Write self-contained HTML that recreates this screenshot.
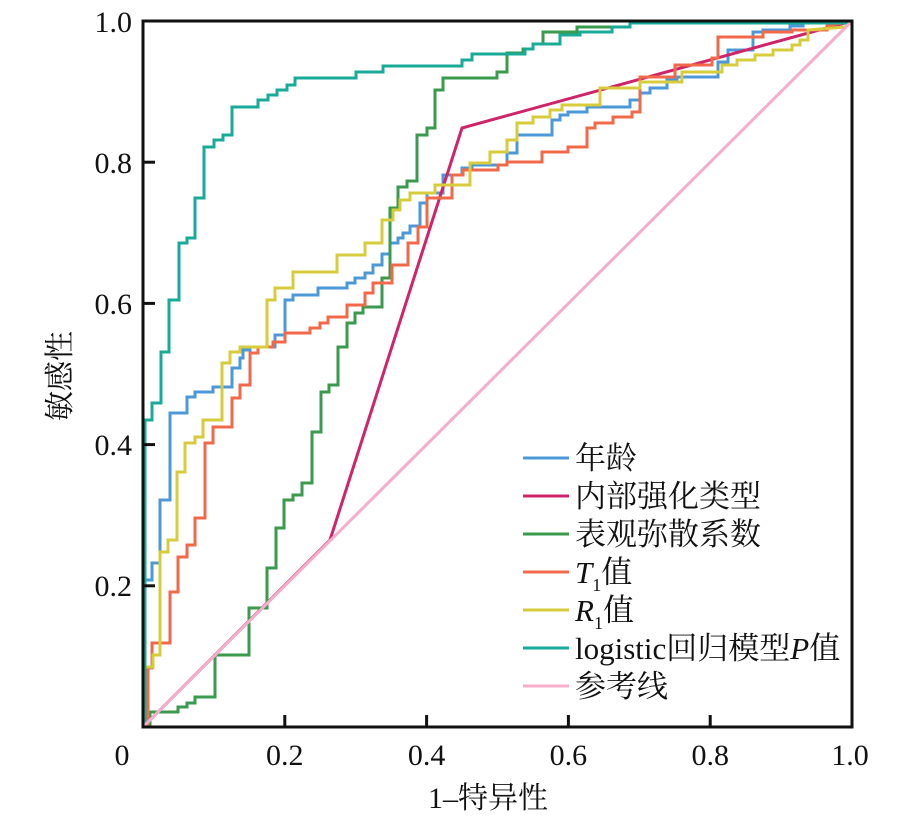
<!DOCTYPE html>
<html>
<head>
<meta charset="utf-8">
<style>
html,body{margin:0;padding:0;background:#fff;}
svg{display:block;}
.t{font-family:"Liberation Serif","Noto Serif CJK SC",serif;fill:#111;}
</style>
</head>
<body>
<svg width="901" height="820" viewBox="0 0 901 820" xmlns="http://www.w3.org/2000/svg">
<rect width="901" height="820" fill="#fff"/>
<g fill="none" stroke-width="3" stroke-linejoin="miter" stroke-linecap="butt">
<!-- blue 年龄 -->
<polyline stroke="#4d98d8" points="145,727 145,580 152,580 152,563 160,563 160,500 170,500 170,413 187,413 187,397 195,397 195,392 213,392 213,387 232,387 232,368 240,368 240,358 243,358 243,350 250,350 250,347 275,347 275,335 285,335 285,300 293,300 293,295 318,295 318,288 347,288 347,283 355,283 355,278 365,278 365,273 373,273 373,265 382,265 382,254 390,254 390,243 398,243 398,238 403,238 403,233 410,233 410,226 420,226 420,203 427,203 427,193 443,193 443,175 462,175 462,168 472,168 472,165 507,165 507,153 517,153 517,135 552,135 552,120 560,120 560,115 568,115 568,112 587,112 587,107 630,107 630,100 640,100 640,93 650,93 650,88 667,88 667,80 677,80 677,77 718,77 718,62 728,62 728,50 753,50 753,32 763,32 763,30 790,30 790,26 803,26 803,23 852,21"/>
<!-- magenta 内部强化类型 -->
<polyline stroke="#d0246a" points="143,727 330,540 462,128 852,21"/>
<!-- green 表观弥散系数 -->
<polyline stroke="#3a9a4e" points="150,727 150,712 178,712 178,707 187,707 187,703 195,703 195,697 215,697 215,655 249,655 249,608 267,608 267,568 276,568 276,528 284,528 284,500 293,500 293,495 302,495 302,483 312,483 312,432 321,432 321,392 329,392 329,385 338,385 338,347 347,347 347,323 355,323 355,313 363,313 363,307 382,307 382,278 390,278 390,208 398,208 398,187 407,187 407,181 417,181 417,135 427,135 427,128 435,128 435,90 443,90 443,78 497,78 497,72 507,72 507,53 523,53 523,49 533,49 533,44 543,44 543,32 577,32 577,27 630,27 630,23 637,23 637,21 852,21"/>
<!-- orange T1 -->
<polyline stroke="#f2694a" points="148,727 148,668 152,668 152,643 170,643 170,592 178,592 178,557 187,557 187,545 195,545 195,518 205,518 205,443 213,443 213,427 232,427 232,398 240,398 240,385 250,385 250,353 258,353 258,347 273,347 273,342 285,342 285,333 310,333 310,328 320,328 320,323 328,323 328,317 347,317 347,305 365,305 365,293 373,293 373,283 392,283 392,265 408,265 408,243 418,243 418,227 427,227 427,198 452,198 452,175 463,175 463,170 498,170 498,165 507,165 507,162 542,162 542,152 568,152 568,147 587,147 587,128 595,128 595,123 613,123 613,117 632,117 632,112 640,112 640,77 675,77 675,65 712,65 712,58 718,58 718,37 763,37 763,32 792,32 792,30 827,30 827,26 852,21"/>
<!-- yellow R1 -->
<polyline stroke="#d6cc3c" points="145,727 145,667 153,667 153,655 160,655 160,552 168,552 168,540 177,540 177,472 185,472 185,443 195,443 195,437 203,437 203,420 222,420 222,363 230,363 230,352 240,352 240,347 267,347 267,300 275,300 275,288 293,288 293,272 337,272 337,255 365,255 365,243 382,243 382,220 393,220 393,210 400,210 400,200 410,200 410,193 435,193 435,185 470,185 470,163 490,163 490,152 507,152 507,140 517,140 517,123 533,123 533,117 550,117 550,110 562,110 562,105 600,105 600,88 640,88 640,82 682,82 682,72 722,72 722,65 737,65 737,60 755,60 755,55 773,55 773,50 792,50 792,45 800,45 800,40 808,40 808,30 845,27 852,21"/>
<!-- teal logistic -->
<polyline stroke="#17ab98" points="145,727 145,420 152,420 152,403 161,403 161,352 169,352 169,300 179,300 179,243 187,243 187,238 195,238 195,198 204,198 204,147 214,147 214,140 223,140 223,135 232,135 232,107 258,107 258,100 268,100 268,95 277,95 277,90 287,90 287,85 295,85 295,78 356,78 356,72 383,72 383,66 462,66 462,60 472,60 472,54 525,54 525,49 533,49 533,44 560,44 560,35 580,35 580,32 612,32 612,27 630,27 630,23 852,23"/>
<!-- pink reference -->
<line stroke="#f4aecb" x1="143" y1="727" x2="852" y2="21"/>
</g>
<!-- frame -->
<rect x="143" y="21" width="709" height="706" fill="none" stroke="#111" stroke-width="3"/>
<g stroke="#111" stroke-width="3">
<line x1="284.8" y1="727" x2="284.8" y2="715"/>
<line x1="426.6" y1="727" x2="426.6" y2="715"/>
<line x1="568.4" y1="727" x2="568.4" y2="715"/>
<line x1="710.2" y1="727" x2="710.2" y2="715"/>
<line x1="143" y1="585.8" x2="155" y2="585.8"/>
<line x1="143" y1="444.6" x2="155" y2="444.6"/>
<line x1="143" y1="303.4" x2="155" y2="303.4"/>
<line x1="143" y1="162.2" x2="155" y2="162.2"/>
</g>
<!-- tick labels -->
<g class="t" font-size="30">
<text x="132" y="32" text-anchor="end">1.0</text>
<text x="132" y="173" text-anchor="end">0.8</text>
<text x="132" y="314" text-anchor="end">0.6</text>
<text x="132" y="455" text-anchor="end">0.4</text>
<text x="132" y="596" text-anchor="end">0.2</text>
<text x="122" y="765" text-anchor="middle">0</text>
<text x="284.8" y="765" text-anchor="middle">0.2</text>
<text x="426.6" y="765" text-anchor="middle">0.4</text>
<text x="568.4" y="765" text-anchor="middle">0.6</text>
<text x="710.2" y="765" text-anchor="middle">0.8</text>
<text x="850" y="765" text-anchor="middle">1.0</text>
</g>
<!-- axis labels -->
<text class="t" font-size="30" x="488" y="808" text-anchor="middle">1–特异性</text>
<text class="t" font-size="30" transform="translate(70,376) rotate(-90)" text-anchor="middle">敏感性</text>
<!-- legend -->
<g stroke-width="3">
<line x1="523" y1="458" x2="569" y2="458" stroke="#4d98d8"/>
<line x1="523" y1="496" x2="569" y2="496" stroke="#d0246a"/>
<line x1="523" y1="534" x2="569" y2="534" stroke="#3a9a4e"/>
<line x1="523" y1="572" x2="569" y2="572" stroke="#f2694a"/>
<line x1="523" y1="610" x2="569" y2="610" stroke="#d6cc3c"/>
<line x1="523" y1="648" x2="569" y2="648" stroke="#17ab98"/>
<line x1="523" y1="686" x2="569" y2="686" stroke="#f4aecb"/>
</g>
<g class="t" font-size="31">
<text x="575" y="469">年龄</text>
<text x="575" y="507">内部强化类型</text>
<text x="575" y="545">表观弥散系数</text>
<text x="575" y="583"><tspan font-style="italic">T</tspan><tspan font-size="18" dy="8">1</tspan><tspan dy="-8">值</tspan></text>
<text x="575" y="621"><tspan font-style="italic">R</tspan><tspan font-size="18" dy="8">1</tspan><tspan dy="-8">值</tspan></text>
<text x="575" y="659">logistic回归模型<tspan font-style="italic">P</tspan>值</text>
<text x="575" y="697">参考线</text>
</g>
</svg>
</body>
</html>
